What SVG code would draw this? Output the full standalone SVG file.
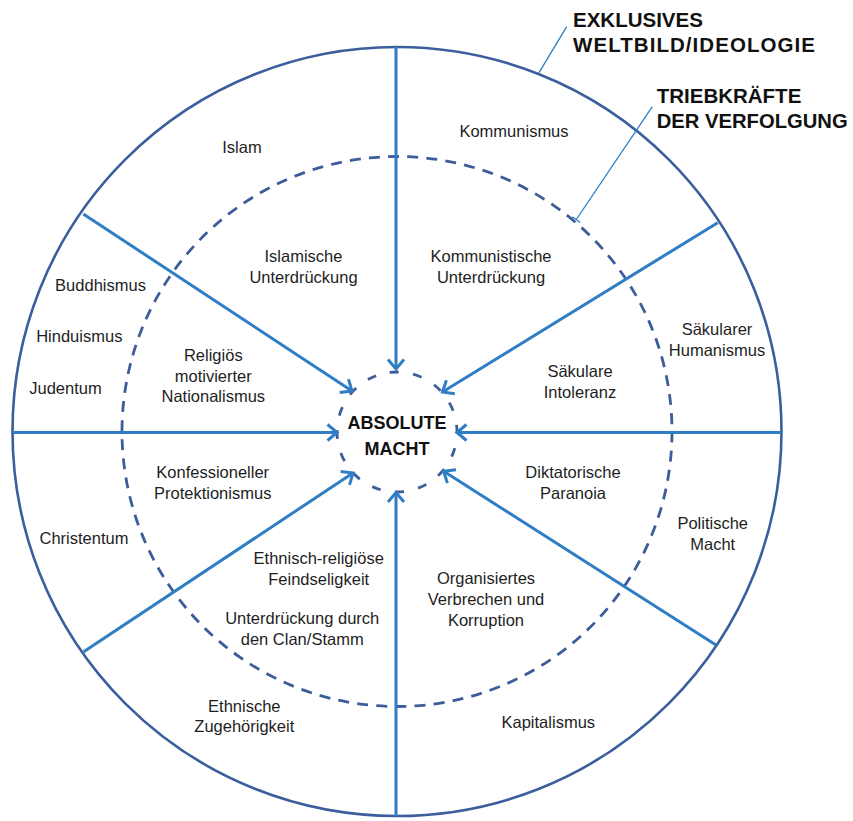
<svg xmlns="http://www.w3.org/2000/svg" width="853" height="821" viewBox="0 0 853 821">
<style>
.ring{fill:none;stroke:#3b5e9d;stroke-width:2.6}
.dash{fill:none;stroke:#3d5c99;stroke-width:2.8;stroke-dasharray:11 8.2}
.dash2{fill:none;stroke:#3d5c99;stroke-width:2.8;stroke-dasharray:9 14.56}
.spoke{fill:none;stroke:#2f7dc4;stroke-width:3;marker-end:url(#arr)}
.lead{fill:none;stroke:#2f7dc4;stroke-width:1.3}
text{font-family:"Liberation Sans",Arial,sans-serif;font-size:16.5px;fill:#1e1e1e;text-anchor:middle}
.hd{font-weight:bold;font-size:20.5px;fill:#111;text-anchor:start}
.ctr{font-weight:bold;font-size:18px;fill:#111}
</style>
<defs>
<marker id="arr" markerUnits="userSpaceOnUse" viewBox="-13 -11 16 22" markerWidth="16" markerHeight="22" refX="0" refY="0" orient="auto" overflow="visible">
<path d="M-9.5,-8 L0,0 L-9.5,8" fill="none" stroke="#2f7dc4" stroke-width="3" stroke-linejoin="miter"/>
</marker>
</defs>
<rect width="853" height="821" fill="#fff"/>
<g id="circles">
<circle class="ring" cx="397" cy="431.5" r="384.5"/>
<circle class="dash" cx="397" cy="431.5" r="275"/>
<circle class="dash2" cx="397" cy="432" r="60" transform="rotate(-97 397 432)"/>
</g>
<g id="connectors">
<line class="spoke" x1="396" y1="47" x2="396" y2="369"/>
<line class="spoke" x1="396" y1="816" x2="396" y2="492.5"/>
<line class="spoke" x1="13" y1="432.5" x2="337" y2="432.5"/>
<line class="spoke" x1="781.5" y1="432.5" x2="457" y2="432.5"/>
<line class="spoke" x1="83.3" y1="214" x2="352" y2="391"/>
<line class="spoke" x1="717.7" y1="222.7" x2="442.5" y2="392"/>
<line class="spoke" x1="83.7" y1="651.7" x2="353" y2="473"/>
<line class="spoke" x1="716" y1="645" x2="443.7" y2="471.3"/>
<line class="lead" x1="539" y1="72.7" x2="566.7" y2="26.7"/>
<line class="lead" x1="576.3" y1="219.5" x2="652.3" y2="106.7"/>
<line class="lead" x1="572.3" y1="216.7" x2="580.3" y2="222.5"/>
</g>
<g id="legend-ideologie"><text class="hd" x="573" y="26.5">EXKLUSIVES</text><text class="hd" x="573" y="51.7" textLength="242" lengthAdjust="spacing">WELTBILD/IDEOLOGIE</text></g>
<g id="legend-triebkraefte"><text class="hd" x="656.7" y="103.3">TRIEBKRÄFTE</text><text class="hd" x="656.7" y="128.3" textLength="191" lengthAdjust="spacingAndGlyphs">DER VERFOLGUNG</text></g>
<g id="center"><text class="ctr" x="397" y="429.3">ABSOLUTE</text><text class="ctr" x="397" y="455">MACHT</text></g>
<g id="islam"><text x="242" y="153.3">Islam</text></g>
<g id="kommunismus"><text x="514" y="136.7">Kommunismus</text></g>
<g id="islamische-unterdrueckung"><text x="303.5" y="262.3">Islamische</text><text x="303.5" y="283.3">Unterdrückung</text></g>
<g id="kommunistische-unterdrueckung"><text x="491" y="261.7">Kommunistische</text><text x="491" y="282.7">Unterdrückung</text></g>
<g id="buddhismus"><text x="100.5" y="290.7">Buddhismus</text></g>
<g id="hinduismus"><text x="79.3" y="341.7">Hinduismus</text></g>
<g id="judentum"><text x="65.5" y="394.3">Judentum</text></g>
<g id="religioes-nationalismus"><text x="213.3" y="360.7">Religiös</text><text x="213.3" y="381.7">motivierter</text><text x="213.3" y="402.3">Nationalismus</text></g>
<g id="saekularer-humanismus"><text x="717" y="335">Säkularer</text><text x="717" y="355.7">Humanismus</text></g>
<g id="saekulare-intoleranz"><text x="580" y="377.3">Säkulare</text><text x="580" y="397.7">Intoleranz</text></g>
<g id="konfessioneller-protektionismus"><text x="212.7" y="478.3">Konfessioneller</text><text x="212.7" y="499.3">Protektionismus</text></g>
<g id="diktatorische-paranoia"><text x="573" y="478.3">Diktatorische</text><text x="573" y="499.3">Paranoia</text></g>
<g id="politische-macht"><text x="712.7" y="529">Politische</text><text x="712.7" y="550">Macht</text></g>
<g id="christentum"><text x="84" y="544">Christentum</text></g>
<g id="ethnisch-religioese-feindseligkeit"><text x="318.7" y="564">Ethnisch-religiöse</text><text x="318.7" y="585">Feindseligkeit</text></g>
<g id="clan-stamm"><text x="302.2" y="624.3">Unterdrückung durch</text><text x="302.2" y="645">den Clan/Stamm</text></g>
<g id="organisiertes-verbrechen"><text x="486" y="584">Organisiertes</text><text x="486" y="605">Verbrechen und</text><text x="486" y="626">Korruption</text></g>
<g id="ethnische-zugehoerigkeit"><text x="244.3" y="711.7">Ethnische</text><text x="244.3" y="732.3">Zugehörigkeit</text></g>
<g id="kapitalismus"><text x="548.3" y="728.3">Kapitalismus</text></g>
</svg>
